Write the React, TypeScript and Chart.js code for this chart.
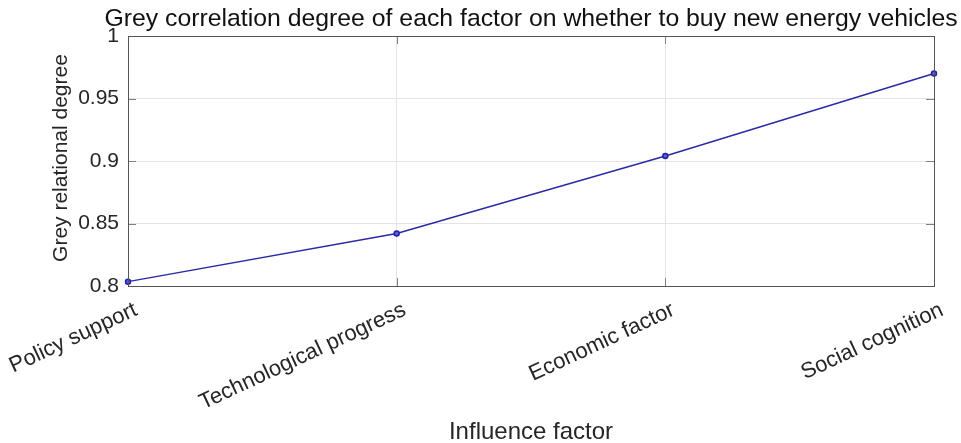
import React, { useEffect, useRef } from "react";
import { Chart, registerables } from "chart.js";

Chart.register(...registerables);

const TITLE = "Grey correlation degree of each factor on whether to buy new energy vehicles";
const X_TITLE = "Influence factor";
const Y_TITLE = "Grey relational degree";
const categories = ["Policy support", "Technological progress", "Economic factor", "Social cognition"];
const degrees = [0.8035, 0.842, 0.904, 0.97];
const yTicks = [0.8, 0.85, 0.9, 0.95, 1];

const FONT = "'Liberation Sans', Arial, sans-serif";

const boxPlugin = {
  id: "boxPlugin",
  afterDraw(chart: any) {
    const { ctx, chartArea, scales } = chart;
    const { left, right, top, bottom } = chartArea;
    ctx.save();
    ctx.strokeStyle = "#808080";
    ctx.lineWidth = 1;
    const L = 8;
    ctx.beginPath();
    scales.y.ticks.forEach((t: any) => {
      const y = Math.round(scales.y.getPixelForValue(t.value)) + 0.5;
      ctx.moveTo(left, y);
      ctx.lineTo(left + L, y);
      ctx.moveTo(right, y);
      ctx.lineTo(right - L, y);
    });
    categories.forEach((_, i) => {
      const x = Math.round(scales.x.getPixelForValue(i)) + 0.5;
      ctx.moveTo(x, bottom);
      ctx.lineTo(x, bottom - L);
      ctx.moveTo(x, top);
      ctx.lineTo(x, top + L);
    });
    ctx.stroke();
    ctx.strokeStyle = "#555555";
    ctx.strokeRect(Math.round(left) + 0.5, Math.round(top) + 0.5, Math.round(right - left), Math.round(bottom - top));
    const cx = (left + right) / 2;
    ctx.textAlign = "center";
    ctx.textBaseline = "middle";
    // chart title
    ctx.fillStyle = "#111111";
    ctx.font = `24.8px ${FONT}`;
    ctx.fillText(TITLE, cx, 19);
    // x axis title
    ctx.fillStyle = "#262626";
    ctx.font = `24px ${FONT}`;
    ctx.fillText(X_TITLE, cx, 432);
    // y axis title
    ctx.font = `21px ${FONT}`;
    ctx.translate(61, (top + bottom) / 2 - 3);
    ctx.rotate(-Math.PI / 2);
    ctx.fillText(Y_TITLE, 0, 0);
    ctx.restore();
  },
};

export default function App() {
  const ref = useRef<HTMLCanvasElement | null>(null);
  useEffect(() => {
    document.body.style.margin = "0";
    const chart = new Chart(ref.current as HTMLCanvasElement, {
      type: "line",
      data: {
        labels: categories,
        datasets: [
          {
            data: degrees,
            borderColor: "#2a2aa8",
            backgroundColor: "rgba(255,255,255,0)",
            borderWidth: 1.5,
            pointRadius: 2.5,
            pointBorderWidth: 1.5,
            pointBorderColor: "#2020b0",
            pointBackgroundColor: "#6060c8",
            tension: 0,
          },
        ],
      },
      options: {
        responsive: false,
        animation: false,
        layout: { padding: { left: 0, right: 27, top: 36, bottom: 0 } },
        plugins: {
          legend: { display: false },
          tooltip: { enabled: false },
          title: { display: false },
        },
        scales: {
          x: {
            type: "category",
            offset: false,
            grid: { color: "#e4e4e4", drawTicks: false },
            border: { display: false },
            afterFit: (s: any) => {
              s.height = 157;
              s.paddingLeft = 0;
              s.paddingRight = 0;
            },
            ticks: {
              minRotation: 25,
              maxRotation: 25,
              padding: 11,
              labelOffset: 8,
              color: "#262626",
              font: { family: FONT, size: 22 },
            },
          },
          y: {
            min: 0.8,
            max: 1,
            afterBuildTicks: (axis: any) => {
              axis.ticks = yTicks.map((v) => ({ value: v }));
            },
            afterFit: (s: any) => {
              s.width = 128;
              s.paddingTop = 0;
              s.paddingBottom = 0;
            },
            grid: { color: "#e4e4e4", drawTicks: false },
            border: { display: false },
            ticks: {
              padding: 9,
              color: "#262626",
              font: { family: FONT, size: 21 },
              callback: (v: any) => String(Number(v)),
            },
          },
        },
      },
      plugins: [boxPlugin],
    } as any);
    return () => chart.destroy();
  }, []);
  return (
    <div style={{ width: 961, height: 443 }}>
      <canvas ref={ref} width={961} height={443} />
    </div>
  );
}
